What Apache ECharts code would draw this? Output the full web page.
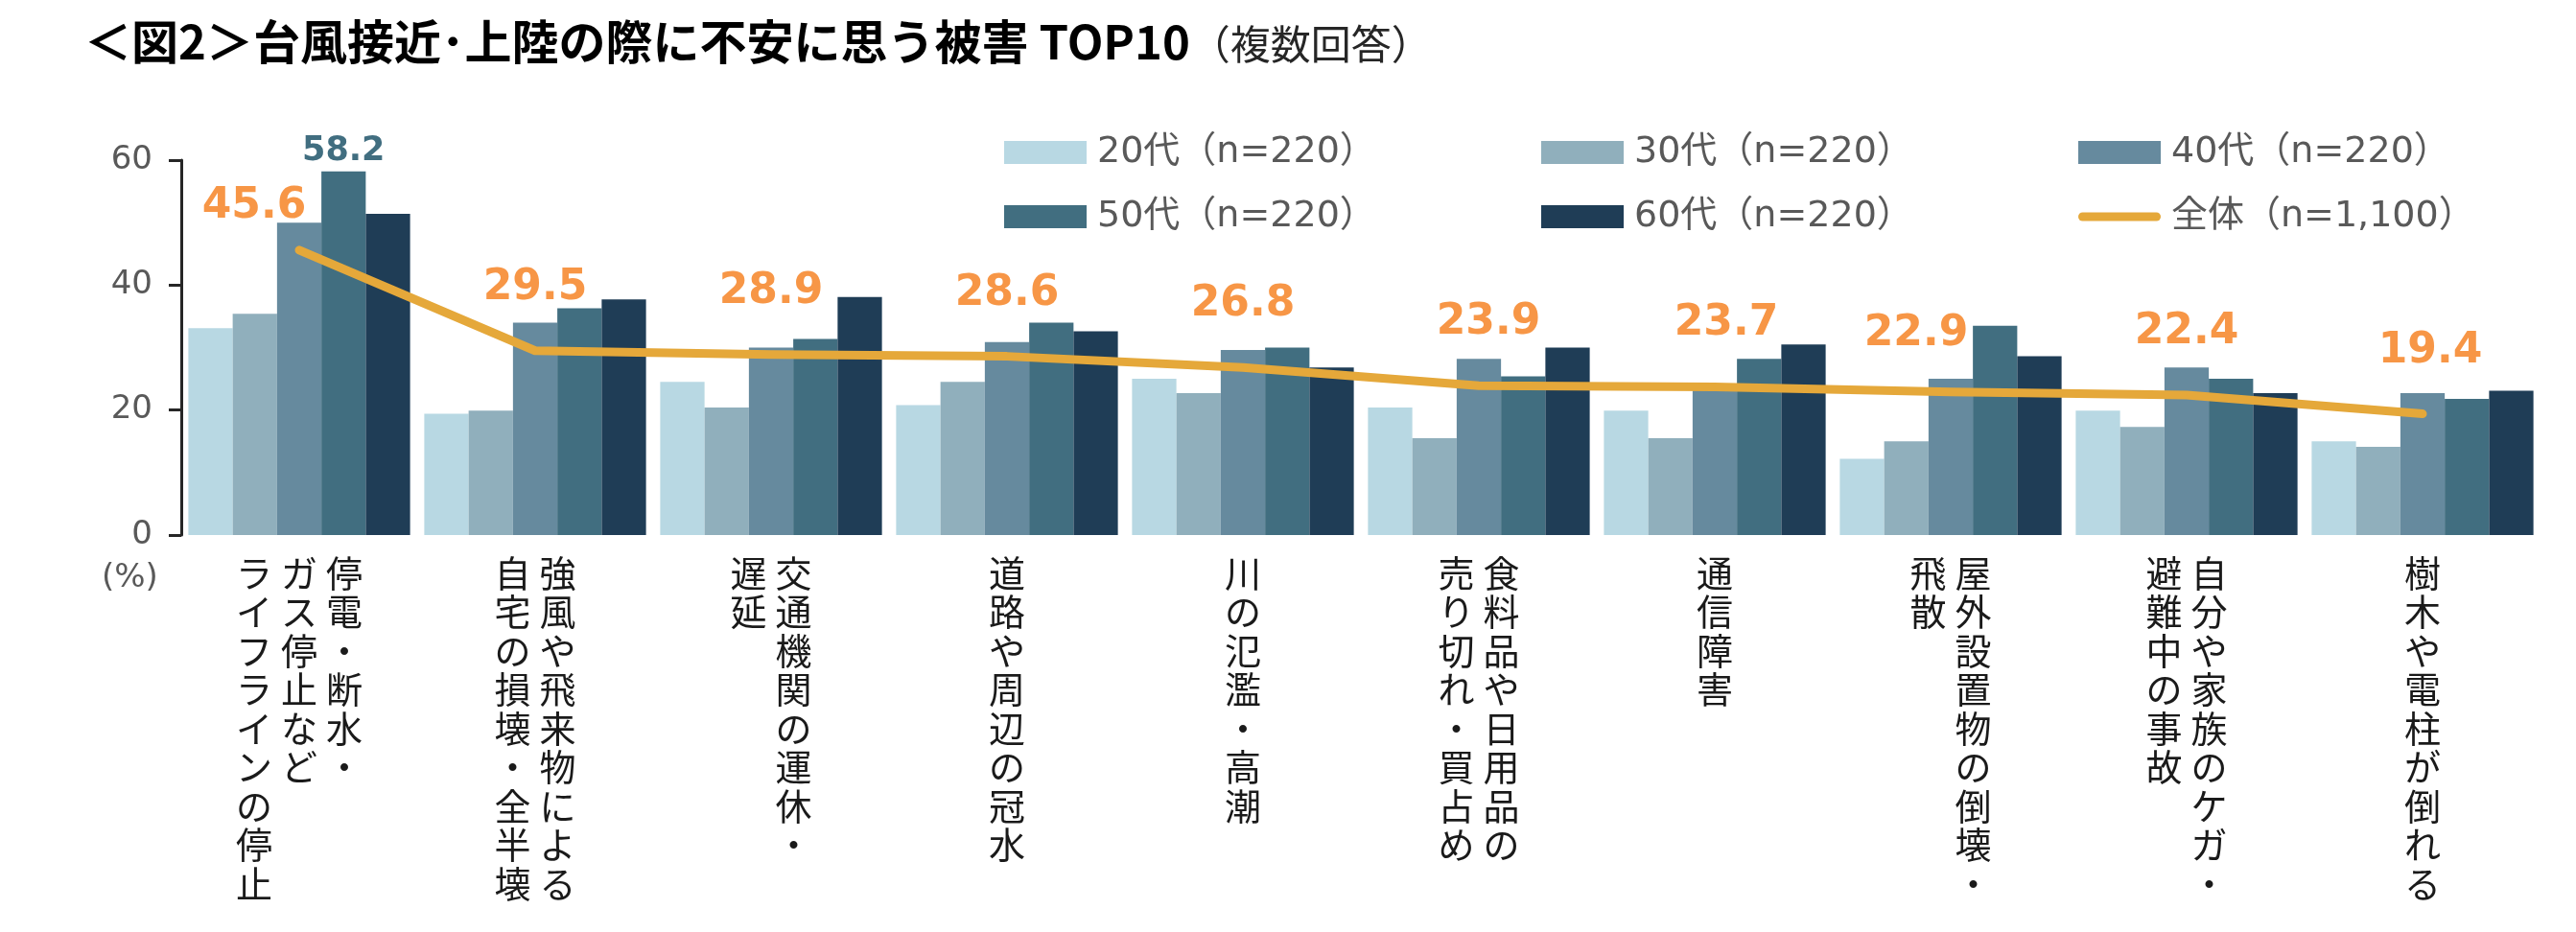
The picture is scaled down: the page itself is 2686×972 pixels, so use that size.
<!DOCTYPE html>
<html>
<head>
<meta charset="utf-8">
<script src="https://cdn.jsdelivr.net/npm/echarts@6/dist/echarts.min.js"></script>
<style>
html,body{margin:0;padding:0;background:#fff;}
#chart{width:2686px;height:972px;}
</style>
</head>
<body>
<div id="chart"></div>
<script>
// ---- data ----
const categories = [
  '停電・断水・ガス停止などライフラインの停止',
  '強風や飛来物による自宅の損壊・全半壊',
  '交通機関の運休・遅延',
  '道路や周辺の冠水',
  '川の氾濫・高潮',
  '食料品や日用品の売り切れ・買占め',
  '通信障害',
  '屋外設置物の倒壊・飛散',
  '自分や家族のケガ・避難中の事故',
  '樹木や電柱が倒れる'
];
// vertical label columns, read right-to-left
const labelColumns = [
  ['停電・断水・', 'ガス停止など', 'ライフラインの停止'],
  ['強風や飛来物による', '自宅の損壊・全半壊'],
  ['交通機関の運休・', '遅延'],
  ['道路や周辺の冠水'],
  ['川の氾濫・高潮'],
  ['食料品や日用品の', '売り切れ・買占め'],
  ['通信障害'],
  ['屋外設置物の倒壊・', '飛散'],
  ['自分や家族のケガ・', '避難中の事故'],
  ['樹木や電柱が倒れる']
];
const seriesNames = ['20代（n=220）', '30代（n=220）', '40代（n=220）', '50代（n=220）', '60代（n=220）', '全体（n=1,100）'];
const age20 = [33.1, 19.4, 24.5, 20.8, 25.0, 20.4, 19.9, 12.2, 19.9, 15.0];
const age30 = [35.4, 19.9, 20.4, 24.5, 22.7, 15.5, 15.5, 15.0, 17.3, 14.1];
const age40 = [50.0, 34.0, 30.0, 30.9, 29.6, 28.2, 23.6, 25.0, 26.8, 22.7];
const age50 = [58.2, 36.3, 31.4, 34.0, 30.0, 25.4, 28.2, 33.5, 25.0, 21.8];
const age60 = [51.4, 37.7, 38.1, 32.6, 26.8, 30.0, 30.5, 28.6, 22.7, 23.1];
const total = [45.6, 29.5, 28.9, 28.6, 26.8, 23.9, 23.7, 22.9, 22.4, 19.4];
const yTicks = [0, 20, 40, 60];

// ---- styles ----
const barColors = ['#B8D8E3', '#90AFBC', '#668A9E', '#416E80', '#1F3D56'];
const lineColor = '#E5A83A';
const labelOrange = '#F79646';
const latinFont = '"DejaVu Sans", "Noto Sans CJK JP", sans-serif';
const cjkFont = '"Noto Sans CJK JP", sans-serif';
// label nudges for the 全体 line labels (pixel offsets, by category index)
const lineLabelNudge = {0: [-47, 20], 5: [10, 0], 6: [12, 0], 7: [-36, 5], 9: [8, 0]};

function verticalLabel(value, idx) {
  const cols = labelColumns[idx].slice().reverse(); // left to right
  const rows = Math.max.apply(null, cols.map(c => c.length));
  const lines = [];
  for (let r = 0; r < rows; r++) {
    lines.push(cols.map(c => '{c|' + (c[r] || '　') + '}').join(''));
  }
  return lines.join('\n');
}

const chart = echarts.init(document.getElementById('chart'), null, {renderer: 'canvas'});

const barData = [age20, age30, age40, age50, age60];
const barSeries = barData.map((arr, k) => ({
  name: seriesNames[k],
  type: 'bar',
  barGap: '0%',
  barCategoryGap: '6%',
  itemStyle: {color: barColors[k]},
  data: arr.map((v, i) => (k === 3 && i === 0)
    ? {value: v, label: {show: true, position: 'top', distance: 3, formatter: '{c}',
        fontSize: 35, fontWeight: 'bold', color: barColors[3], fontFamily: latinFont}}
    : v),
  z: 2
}));

const lineSeries = {
  name: seriesNames[5],
  type: 'line',
  symbol: 'circle',
  symbolSize: 1,
  showSymbol: true,
  itemStyle: {color: lineColor},
  lineStyle: {color: lineColor, width: 9, cap: 'round', join: 'round'},
  label: {
    show: true, position: 'top', distance: 43,
    fontSize: 44, fontWeight: 'bold', color: labelOrange, fontFamily: latinFont,
    formatter: p => p.value.toFixed(1)
  },
  data: total.map((v, i) => lineLabelNudge[i] ? {value: v, label: {offset: lineLabelNudge[i]}} : v),
  z: 5
};

const option = {
  backgroundColor: '#fff',
  animation: false,
  title: {
    left: 88, top: 19, padding: 0,
    text: '{a|＜図2＞台風接近･上陸の際に不安に思う被害 TOP10}{b|（複数回答）}',
    textStyle: {
      rich: {
        a: {fontSize: 49, fontWeight: 'bold', color: '#000', fontFamily: cjkFont},
        b: {fontSize: 42, fontWeight: 'normal', color: '#262626', fontFamily: cjkFont, padding: [6, 0, 0, 0]}
      }
    }
  },
  legend: {
    left: 1047, top: 140, width: 1700, padding: 0,
    itemWidth: 86, itemHeight: 24, itemGap: 29,
    symbolKeepAspect: true,
    data: seriesNames.map((n, i) => i === 5
      ? {name: n, icon: 'path://M4.5,0 L81.5,0 A4.5,4.5 0 0 1 81.5,9 L4.5,9 A4.5,4.5 0 0 1 4.5,0 Z'}
      : {name: n, icon: 'rect'}),
    formatter: '{t|{name}}',
    textStyle: {
      rich: {t: {width: 434, height: 28, fontSize: 38, lineHeight: 28, color: '#595959', fontFamily: latinFont, padding: [0, 0, 0, 6]}}
    }
  },
  grid: {left: 189, right: 37, top: 167, bottom: 414, containLabel: false},
  xAxis: {
    type: 'category',
    data: categories,
    axisLine: {show: false},
    axisTick: {show: false},
    axisLabel: {
      interval: 0, margin: 19,
      formatter: verticalLabel,
      rich: {c: {width: 47, align: 'center', fontSize: 38, lineHeight: 40.5, color: '#1a1a1a', fontFamily: cjkFont}}
    }
  },
  yAxis: {
    type: 'value',
    min: yTicks[0], max: yTicks[yTicks.length - 1], interval: 20,
    axisLine: {show: true, lineStyle: {color: '#262626', width: 3}},
    axisTick: {show: true, length: 13, lineStyle: {color: '#262626', width: 3}},
    splitLine: {show: false},
    axisLabel: {margin: 30, fontSize: 34, color: '#595959', fontFamily: latinFont}
  },
  graphic: [{
    type: 'text', left: 106, top: 586,
    style: {text: '(%)', fontSize: 34, fill: '#595959', fontFamily: latinFont}
  }],
  series: barSeries.concat([lineSeries])
};

chart.setOption(option);
</script>
</body>
</html>
